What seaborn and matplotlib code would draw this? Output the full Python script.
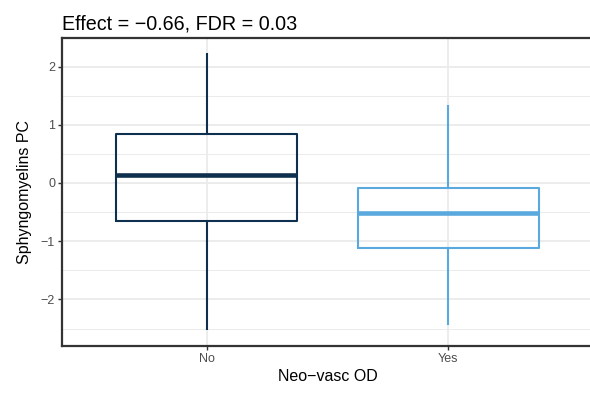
import numpy as np
import pandas as pd
import matplotlib
matplotlib.use("Agg")
import matplotlib.pyplot as plt
import seaborn as sns

# Values: [lower whisker, Q1, median, Q3, upper whisker]
groups = ["No", "Yes"]
no_vals = [-2.52, -0.65, 0.14, 0.84, 2.23]
yes_vals = [-2.44, -1.12, -0.51, -0.09, 1.34]
colors = ["#0e2f4d", "#5aa9de"]
title = "Effect = \u22120.66, FDR = 0.03"
xlabel = "Neo\u2212vasc OD"
ylabel = "Sphyngomyelins PC"
yticks = [-2, -1, 0, 1, 2]

df = pd.DataFrame({
    "group": ["No"] * len(no_vals) + ["Yes"] * len(yes_vals),
    "value": no_vals + yes_vals,
})

sns.set_theme(style="white")
plt.rcParams["font.family"] = ["Liberation Sans", "DejaVu Sans"]

fig = plt.figure(figsize=(5.9, 3.94), dpi=100)
ax = fig.add_axes([62 / 590, 1 - 346 / 394, (593 - 62) / 590, (346 - 38) / 394])

ax.set_ylim(-2.80, 2.49)
ax.set_xlim(-0.6, 1.6)

# grid
for v in np.arange(-2.5, 2.6, 1.0):
    ax.axhline(v, color="#ebebeb", lw=0.7, zorder=0)
for v in yticks:
    ax.axhline(v, color="#ebebeb", lw=1.3, zorder=0)
for v in [0, 1]:
    ax.axvline(v, color="#ebebeb", lw=1.3, zorder=0)

sns.boxplot(data=df, x="group", y="value", hue="group", order=groups,
            hue_order=groups, palette=colors, whis=(0, 100), width=0.75,
            fill=False, linewidth=1.5, legend=False, ax=ax,
            medianprops={"linewidth": 3.3},
            capprops={"linewidth": 0},
            showfliers=False)

ax.set_xlim(-0.6, 1.6)
ax.set_ylim(-2.80, 2.49)
ax.set_yticks(yticks)
ax.set_yticklabels(["\u22122", "\u22121", "0", "1", "2"])
ax.tick_params(axis="both", which="major", length=3, width=1.0, color="#333333",
               labelsize=9, labelcolor="#4d4d4d", pad=2, direction="out",
               left=True, bottom=True)

for s in ["left", "bottom", "top", "right"]:
    ax.spines[s].set_color("#333333")
    ax.spines[s].set_linewidth(1.6)

ax.set_xlabel(xlabel, fontsize=11.5, color="black", labelpad=3)
ax.set_ylabel(ylabel, fontsize=11.5, color="black", labelpad=6)
ax.set_title(title, loc="left", fontsize=14.2, color="black", pad=6)

fig.savefig("out.png", dpi=100)
